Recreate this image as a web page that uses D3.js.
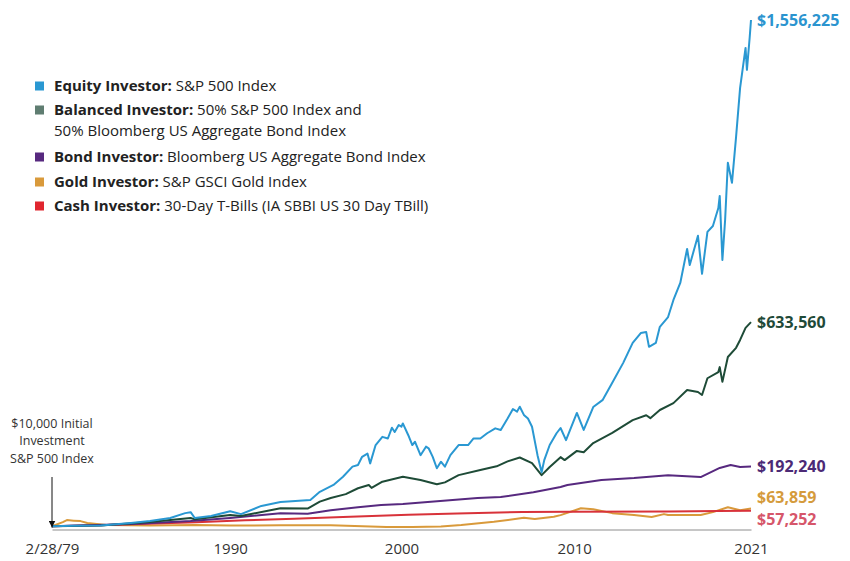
<!DOCTYPE html>
<html>
<head>
<meta charset="utf-8">
<script src="https://cdn.jsdelivr.net/npm/d3@7"></script>
<style>
	body { margin: 0; background: #fff; }
	svg text { font-family: 'Open Sans', 'Noto Sans', sans-serif; }
</style>
</head>
<body>
<svg id="chart" width="850" height="561"></svg>
<script>
// growth of $10,000, month / value pairs
const equity = [
	[ '1979-02', 10000 ], [ '1980-06', 11500 ], [ '1982-02', 12000 ], [ '1983-12', 19900 ],
	[ '1985-02', 26000 ], [ '1986-05', 35000 ], [ '1987-04', 50000 ], [ '1987-08', 53000 ],
	[ '1987-11', 35000 ], [ '1988-11', 41000 ], [ '1990-01', 56000 ], [ '1990-09', 47000 ],
	[ '1991-12', 72000 ], [ '1993-02', 84000 ], [ '1994-12', 90000 ], [ '1995-07', 115000 ],
	[ '1996-05', 136000 ], [ '1996-12', 161000 ], [ '1997-07', 192000 ], [ '1997-11', 197000 ],
	[ '1998-02', 222000 ], [ '1998-06', 232000 ], [ '1998-08', 202000 ], [ '1998-12', 258000 ],
	[ '1999-05', 283000 ], [ '1999-09', 278000 ], [ '1999-12', 311000 ], [ '2000-02', 298000 ],
	[ '2000-05', 319000 ], [ '2000-07', 314000 ], [ '2000-08', 324000 ], [ '2000-12', 288000 ],
	[ '2001-03', 258000 ], [ '2001-05', 268000 ], [ '2001-09', 227000 ], [ '2002-01', 253000 ],
	[ '2002-03', 248000 ], [ '2002-06', 222000 ], [ '2002-09', 187000 ], [ '2002-12', 207000 ],
	[ '2003-03', 192000 ], [ '2003-07', 227000 ], [ '2004-01', 258000 ], [ '2004-08', 258000 ],
	[ '2004-12', 278000 ], [ '2005-05', 278000 ], [ '2005-10', 294000 ], [ '2006-04', 309000 ],
	[ '2006-08', 304000 ], [ '2007-01', 339000 ], [ '2007-05', 368000 ], [ '2007-08', 360000 ],
	[ '2007-10', 375000 ], [ '2008-01', 350000 ], [ '2008-04', 339000 ], [ '2008-07', 314000 ],
	[ '2008-11', 227000 ], [ '2009-02', 175000 ], [ '2009-04', 212000 ], [ '2009-08', 258000 ],
	[ '2010-01', 294000 ], [ '2010-04', 310000 ], [ '2010-08', 273000 ], [ '2011-04', 356000 ],
	[ '2011-09', 304000 ], [ '2012-04', 374000 ], [ '2012-11', 396000 ], [ '2013-06', 448000 ],
	[ '2014-02', 509000 ], [ '2014-09', 570000 ], [ '2015-03', 600000 ], [ '2015-07', 603000 ],
	[ '2015-09', 558000 ], [ '2016-02', 570000 ], [ '2016-05', 619000 ], [ '2016-11', 649000 ],
	[ '2017-03', 701000 ], [ '2017-08', 753000 ], [ '2018-01', 857000 ], [ '2018-03', 808000 ],
	[ '2018-09', 897000 ], [ '2018-12', 781000 ], [ '2019-04', 909000 ], [ '2019-08', 927000 ],
	[ '2019-12', 982000 ], [ '2020-01', 1019000 ], [ '2020-03', 823000 ], [ '2020-05', 946000 ],
	[ '2020-07', 1120000 ], [ '2020-10', 1059000 ], [ '2021-01', 1199000 ], [ '2021-04', 1349000 ],
	[ '2021-08', 1471000 ], [ '2021-09', 1404000 ], [ '2021-11', 1502000 ], [ '2021-12', 1556225 ]
];

const balanced = [
	[ '1979-02', 10000 ], [ '1982-02', 12500 ], [ '1985-02', 22600 ], [ '1987-08', 35000 ],
	[ '1987-11', 31000 ], [ '1990-01', 44000 ], [ '1990-09', 41000 ], [ '1993-02', 65000 ],
	[ '1994-10', 64000 ], [ '1995-07', 85000 ], [ '1996-03', 96000 ], [ '1997-02', 108000 ],
	[ '1997-11', 126000 ], [ '1998-07', 136000 ], [ '1998-09', 127000 ], [ '1999-05', 146000 ],
	[ '2000-08', 161000 ], [ '2001-09', 151000 ], [ '2002-09', 138000 ], [ '2003-03', 144000 ],
	[ '2004-01', 166000 ], [ '2005-05', 182000 ], [ '2006-05', 193000 ], [ '2007-01', 208000 ],
	[ '2007-10', 220000 ], [ '2008-07', 203000 ], [ '2009-02', 166000 ], [ '2009-08', 191000 ],
	[ '2010-04', 221000 ], [ '2010-07', 212000 ], [ '2011-04', 240000 ], [ '2011-09', 236000 ],
	[ '2012-04', 264000 ], [ '2013-06', 295000 ], [ '2014-09', 334000 ], [ '2015-07', 349000 ],
	[ '2015-10', 340000 ], [ '2016-05', 365000 ], [ '2017-03', 386000 ], [ '2018-01', 426000 ],
	[ '2018-09', 420000 ], [ '2018-12', 411000 ], [ '2019-04', 462000 ], [ '2019-12', 481000 ],
	[ '2020-01', 496000 ], [ '2020-03', 451000 ], [ '2020-07', 527000 ], [ '2021-01', 555000 ],
	[ '2021-04', 579000 ], [ '2021-08', 616000 ], [ '2021-12', 633560 ]
];

const bond = [
	[ '1979-02', 10000 ], [ '1984-01', 16500 ], [ '1987-08', 25700 ], [ '1990-01', 35000 ],
	[ '1993-02', 50000 ], [ '1994-10', 48000 ], [ '1996-03', 59000 ], [ '1997-11', 68000 ],
	[ '1999-04', 75000 ], [ '2000-08', 78000 ], [ '2005-03', 96000 ], [ '2006-08', 99000 ],
	[ '2008-08', 114000 ], [ '2010-04', 130000 ], [ '2010-09', 136000 ], [ '2012-10', 151000 ],
	[ '2014-10', 157000 ], [ '2016-11', 166000 ], [ '2018-11', 160000 ], [ '2020-01', 188000 ],
	[ '2020-09', 197000 ], [ '2021-04', 191000 ], [ '2021-12', 192240 ]
];

const gold = [
	[ '1979-02', 10000 ], [ '1979-10', 22600 ], [ '1980-01', 28700 ], [ '1980-06', 27000 ],
	[ '1980-11', 25700 ], [ '1981-04', 19600 ], [ '1982-06', 13400 ], [ '1985-02', 12000 ],
	[ '1987-11', 14000 ], [ '1990-01', 12000 ], [ '1993-02', 13000 ], [ '1996-03', 13000 ],
	[ '1999-08', 8000 ], [ '2001-03', 7500 ], [ '2002-12', 9000 ], [ '2004-03', 13400 ],
	[ '2006-03', 23500 ], [ '2008-01', 35700 ], [ '2008-09', 31800 ], [ '2009-11', 38800 ],
	[ '2010-04', 44000 ], [ '2011-07', 65000 ], [ '2012-04', 62000 ], [ '2013-06', 50000 ],
	[ '2014-10', 44000 ], [ '2015-11', 38000 ], [ '2016-08', 47000 ], [ '2016-11', 44000 ],
	[ '2018-11', 44000 ], [ '2019-08', 53000 ], [ '2020-07', 68000 ], [ '2021-04', 59000 ],
	[ '2021-12', 63859 ]
];

const cash = [
	[ '1979-02', 10000 ], [ '1981-12', 13200 ], [ '1984-12', 17800 ], [ '1987-12', 22200 ],
	[ '1990-12', 28500 ], [ '1993-12', 32500 ], [ '1996-12', 38000 ], [ '2000-12', 45000 ],
	[ '2003-12', 49000 ], [ '2007-12', 53500 ], [ '2010-12', 54500 ], [ '2016-12', 54900 ],
	[ '2019-12', 56800 ], [ '2021-12', 57252 ]
];

const seriesNames = [ 'Equity Investor:', 'Balanced Investor:', 'Bond Investor:', 'Gold Investor:', 'Cash Investor:' ];
const seriesNotes = [
	[ 'S&P 500 Index' ],
	[ '50% S&P 500 Index and', '50% Bloomberg US Aggregate Bond Index' ],
	[ 'Bloomberg US Aggregate Bond Index' ],
	[ 'S&P GSCI Gold Index' ],
	[ '30-Day T-Bills (IA SBBI US 30 Day TBill)' ]
];
const seriesData = [ equity, balanced, bond, gold, cash ];

const tickDates = [ '1979-02', '1990-01', '2000-07', '2011-02', '2021-12' ];
const tickLabels = [ '2/28/79', '1990', '2000', '2010', '2021' ];

// styles
const lineColours = [ '#2a98d2', '#1e4b37', '#57297f', '#d99a3b', '#d8323a' ],
	swatchColours = [ '#2a98d2', '#5f7d71', '#57297f', '#d99a3b', '#e0262f' ],
	endColours = [ '#2b94cf', '#1f4a38', '#4c2a76', '#d59b3c', '#d6566a' ],
	endNudge = [ 0, 0, 0, -11.6, 8.2 ],
	drawOrder = [ 3, 4, 2, 1, 0 ];

const parse = d3.utcParse( '%Y-%m' ),
	svg = d3.select( '#chart' );

const x = d3
	.scaleUtc()
	.domain( [ parse( '1979-02' ), parse( '2021-12' ) ] )
	.range( [ 52, 751 ] );

const y = d3
	.scaleLinear()
	.domain( [ 0, 1556225 ] )
	.range( [ 529.5, 20 ] );

const line = d3
	.line()
	.x( ( d ) => x( parse( d[ 0 ] ) ) )
	.y( ( d ) => y( d[ 1 ] ) );

// axis
const axis = svg
	.append( 'g' )
	.attr( 'transform', `translate(0, ${y( 0 )})` )
	.call(
		d3
			.axisBottom( x )
			.tickValues( tickDates.map( parse ) )
			.tickFormat( ( d, i ) => tickLabels[ i ] )
			.tickSize( 0 )
			.tickPadding( 14 )
	);

axis.select( '.domain' ).attr( 'stroke', '#b3b3b3' ).attr( 'stroke-width', 1.6 );
axis.selectAll( 'text' )
	.style( 'font-size', '15px' )
	.attr( 'fill', '#333' );

// lines
svg.append( 'g' )
	.selectAll( 'path' )
	.data( drawOrder )
	.join( 'path' )
	.attr( 'd', ( i ) => line( seriesData[ i ] ) )
	.attr( 'fill', 'none' )
	.attr( 'stroke', ( i ) => lineColours[ i ] )
	.attr( 'stroke-width', 2 )
	.attr( 'stroke-linejoin', 'round' );

// end values
svg.append( 'g' )
	.selectAll( 'text' )
	.data( seriesData )
	.join( 'text' )
	.attr( 'x', 757 )
	.attr( 'y', ( d, i ) => y( d[ d.length - 1 ][ 1 ] ) + endNudge[ i ] )
	.attr( 'dy', '0.36em' )
	.attr( 'fill', ( d, i ) => endColours[ i ] )
	.style( 'font-size', '16px' )
	.style( 'font-weight', 700 )
	.text( ( d ) => d3.format( '$,' )( d[ d.length - 1 ][ 1 ] ) );

// legend
const rowY = [ 86, 110, 157, 182, 206 ];
const legend = svg.append( 'g' );

seriesNames.forEach( ( name, i ) => {
	legend.append( 'rect' )
		.attr( 'x', 35 )
		.attr( 'y', rowY[ i ] - 4.5 )
		.attr( 'width', 9 )
		.attr( 'height', 9 )
		.attr( 'fill', swatchColours[ i ] );

	seriesNotes[ i ].forEach( ( note, j ) => {
		const t = legend.append( 'text' )
			.attr( 'x', 54 )
			.attr( 'y', rowY[ i ] + j * 20.6 )
			.attr( 'dy', '0.36em' )
			.attr( 'fill', '#222' )
			.style( 'font-size', '15px' );
		if ( j === 0 ) {
			t.append( 'tspan' ).style( 'font-weight', 700 ).text( name + ' ' );
		}
		t.append( 'tspan' ).text( note );
	} );
} );

// starting point note
const note = svg.append( 'g' ).attr( 'fill', '#333' );
[ '$10,000 Initial', 'Investment', 'S&P 500 Index' ].forEach( ( s, i ) => {
	note.append( 'text' )
		.attr( 'x', 52 )
		.attr( 'y', 423 + i * 17.5 )
		.attr( 'dy', '0.36em' )
		.attr( 'text-anchor', 'middle' )
		.style( 'font-size', '12.5px' )
		.text( s );
} );

svg.append( 'defs' )
	.append( 'marker' )
	.attr( 'id', 'head' )
	.attr( 'viewBox', '0 0 10 10' )
	.attr( 'refX', 10 )
	.attr( 'refY', 5 )
	.attr( 'markerWidth', 7 )
	.attr( 'markerHeight', 7 )
	.attr( 'orient', 'auto' )
	.append( 'path' )
	.attr( 'd', 'M0,0L10,5L0,10Z' )
	.attr( 'fill', '#111' );

svg.append( 'line' )
	.attr( 'x1', x( parse( '1979-02' ) ) )
	.attr( 'x2', x( parse( '1979-02' ) ) )
	.attr( 'y1', 477 )
	.attr( 'y2', y( 0 ) - 2 )
	.attr( 'stroke', '#111' )
	.attr( 'stroke-width', 1 )
	.attr( 'marker-end', 'url(#head)' );
</script>
</body>
</html>
